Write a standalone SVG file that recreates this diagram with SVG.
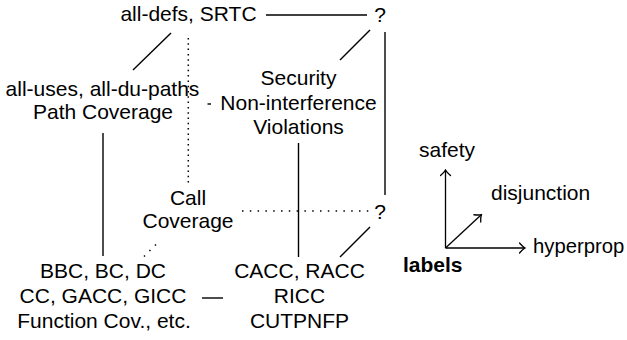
<svg xmlns="http://www.w3.org/2000/svg" width="627" height="340" viewBox="0 0 627 340">
<defs>
<style>
text{font-family:"Liberation Sans",Arial,sans-serif;font-size:21px;fill:#000}
.c{text-anchor:middle}
.b{font-weight:bold}
.ln{stroke:#000;stroke-width:1.4;fill:none}
.dv{stroke:#000;stroke-width:1.5;fill:none;stroke-dasharray:1.5 3.8}
.dh{stroke:#000;stroke-width:1.5;fill:none;stroke-dasharray:1.5 6.3}
.ax{stroke:#000;stroke-width:1.3;fill:none;marker-end:url(#tip)}
</style>
<marker id="tip" viewBox="-6 -6 8 12" markerWidth="8" markerHeight="12" refX="0" refY="0" orient="auto" markerUnits="userSpaceOnUse">
<path d="M-5,-5 Q-1.5,-1 0.5,0 Q-1.5,1 -5,5" stroke="#000" stroke-width="1.3" fill="none" stroke-linecap="round"/>
</marker>
</defs>
<g id="connectors">
<line class="ln" x1="266" y1="15" x2="367" y2="15"/>
<line class="ln" x1="171" y1="33" x2="133" y2="70"/>
<line class="ln" x1="370" y1="30" x2="340" y2="60"/>
<line class="ln" x1="385" y1="32" x2="385" y2="195"/>
<line class="ln" x1="103" y1="133" x2="103" y2="256"/>
<line class="ln" x1="298.5" y1="143" x2="298.5" y2="257"/>
<line class="ln" x1="370" y1="227" x2="340" y2="257"/>
<line class="ln" x1="202" y1="298" x2="223" y2="298"/>
<line class="dv" x1="188.3" y1="38" x2="188.3" y2="184"/>
<line class="dh" x1="242" y1="211" x2="370" y2="211"/>
<line class="dh" x1="156" y1="244.5" x2="144" y2="256.5"/>
<line class="ln" x1="207.5" y1="104" x2="211" y2="104"/>
</g>
<g id="n-alldefs"><text class="c" x="188.5" y="21">all-defs, SRTC</text></g>
<g id="n-q-top"><text class="c" x="380" y="21.5">?</text></g>
<g id="n-alluses"><text class="c" x="102.5" y="95.5">all-uses, all-du-paths</text><text class="c" x="103" y="119">Path Coverage</text></g>
<g id="n-security"><text class="c" x="298.5" y="85">Security</text><text class="c" x="298.5" y="109.5">Non-interference</text><text class="c" x="298.5" y="134">Violations</text></g>
<g id="n-call"><text class="c" x="188" y="205">Call</text><text class="c" x="188" y="228">Coverage</text></g>
<g id="n-q-bottom"><text class="c" x="380" y="218.5">?</text></g>
<g id="n-bbc"><text class="c" x="103" y="278">BBC, BC, DC</text><text class="c" x="103" y="303">CC, GACC, GICC</text><text class="c" x="104" y="328">Function Cov., etc.</text></g>
<g id="n-cacc"><text class="c" x="299.5" y="278">CACC, RACC</text><text class="c" x="299.5" y="303">RICC</text><text class="c" x="299.5" y="328">CUTPNFP</text></g>
<g id="legend">
<line class="ax" x1="445.5" y1="248" x2="445.5" y2="170.5"/>
<line class="ax" x1="445.5" y1="248" x2="524.5" y2="248"/>
<line class="ax" x1="445.5" y1="248" x2="481" y2="215"/>
<text x="419" y="157">safety</text>
<text x="491" y="200">disjunction</text>
<text x="533" y="253" style="font-size:20.3px">hyperprop</text>
<text class="b" x="403" y="272">labels</text>
</g>
</svg>
